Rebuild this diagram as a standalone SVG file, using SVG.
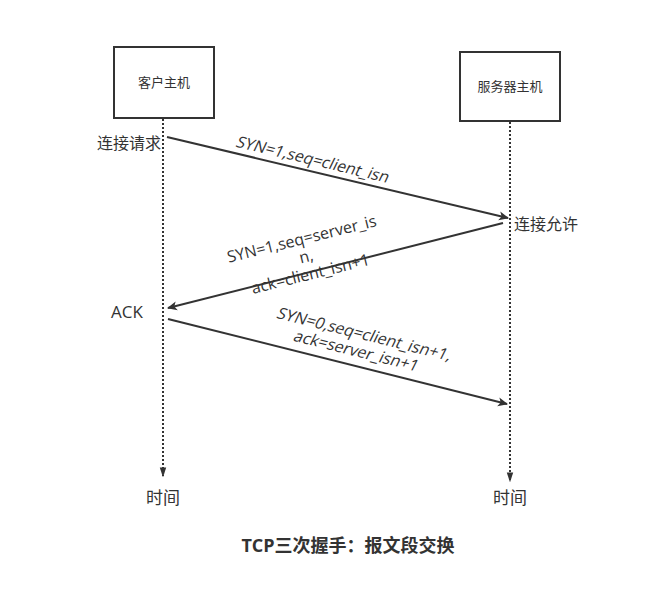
<svg xmlns="http://www.w3.org/2000/svg" width="658" height="602" viewBox="0 0 658 602">
<defs>
<marker id="ah" markerWidth="10" markerHeight="10" refX="9" refY="5" orient="auto" markerUnits="userSpaceOnUse" viewBox="0 0 10 10">
<path d="M0,0.5 L10,5 L0,9.5 L2.5,5 Z" fill="#333"/>
</marker>
<marker id="ahv" markerWidth="10" markerHeight="14" refX="12" refY="5" orient="auto" markerUnits="userSpaceOnUse" viewBox="0 0 14 10">
<path d="M0,0.5 L14,5 L0,9.5 Z" fill="#333"/>
</marker>
</defs>
<style>
.box{fill:#fff;stroke:#333;stroke-width:2}
.life{stroke:#333;stroke-width:2;stroke-dasharray:2 2;fill:none}
.msg{stroke:#333;stroke-width:2;fill:none}
text{font-family:"Open Sans","Noto Sans CJK SC",sans-serif;fill:#333}
.node{font-size:13px}
.lbl{font-size:16px}
.big{font-size:17px}
</style>
<rect width="658" height="602" fill="#fff"/>
<g id="client">
<rect class="box" x="114" y="47" width="100" height="71"/>
<text class="node" x="164" y="87" text-anchor="middle">客户主机</text>
</g>
<g id="server">
<rect class="box" x="460" y="52" width="100" height="69"/>
<text class="node" x="510" y="91" text-anchor="middle">服务器主机</text>
</g>
<g id="connectors">
<line class="life" x1="163" y1="119" x2="163" y2="476" marker-end="url(#ahv)"/>
<line class="life" x1="510" y1="122" x2="510" y2="481" marker-end="url(#ahv)"/>
<line class="msg" x1="167" y1="137" x2="508" y2="218" marker-end="url(#ah)"/>
<line class="msg" x1="503" y1="223" x2="168" y2="308" marker-end="url(#ah)"/>
<line class="msg" x1="168" y1="319" x2="507" y2="404" marker-end="url(#ah)"/>
</g>
<g id="labels">
<text class="lbl" x="161" y="149" text-anchor="end">连接请求</text>
<text class="lbl" x="514" y="230">连接允许</text>
<text class="big" x="111" y="318">ACK</text>
<text class="big" x="163" y="504" text-anchor="middle">时间</text>
<text class="big" x="510" y="504" text-anchor="middle">时间</text>
<g transform="translate(313,160) rotate(13.5) skewX(-12)">
<text class="lbl" x="0" y="5" text-anchor="middle">SYN=1,seq=client_isn</text>
</g>
<g transform="translate(306,256) rotate(-14)">
<text class="lbl" x="0" y="-12" text-anchor="middle">SYN=1,seq=server_is</text>
<text class="lbl" x="0" y="6" text-anchor="middle">n,</text>
<text class="lbl" x="0" y="24" text-anchor="middle">ack=client_isn+1</text>
</g>
<g transform="translate(360,344) rotate(14) skewX(-12)">
<text class="lbl" x="0" y="-5" text-anchor="middle">SYN=0,seq=client_isn+1,</text>
<text class="lbl" x="0" y="13" text-anchor="middle">ack=server_isn+1</text>
</g>
<text x="348" y="552" text-anchor="middle" style="font-size:18px;font-weight:bold">TCP三次握手：报文段交换</text>
</g>
</svg>
